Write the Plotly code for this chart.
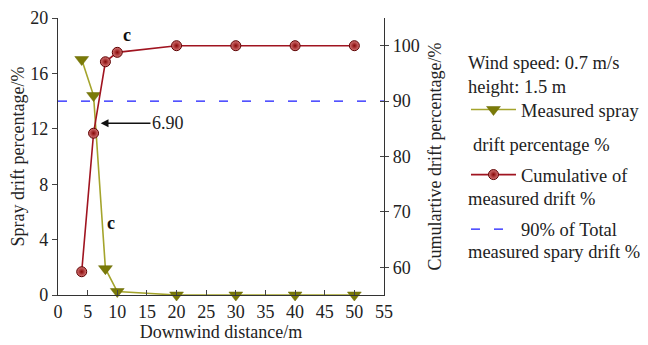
import plotly.graph_objects as go

distance = [4, 6, 8, 10, 20, 30, 40, 50]
spray_drift = [17.0, 14.4, 1.9, 0.25, 0.0, 0.0, 0.0, 0.0]
cumulative = [59.2, 84.2, 97.1, 98.8, 100.0, 100.0, 100.0, 100.0]
threshold_x = [0, 55]
threshold_y = [90, 90]
right_ticks = [60, 70, 80, 90, 100]

FONT = "Liberation Serif"
FS = 18
LFS = 18.5

fig = go.Figure()
fig.add_trace(go.Scatter(
    x=distance, y=spray_drift, mode="lines+markers",
    name="Measured spray",
    line=dict(color="#a4a42c", width=1.6),
    marker=dict(symbol="triangle-down", size=12, color="#7a7a08",
                line=dict(color="#686800", width=0.5)),
    legend="legend", cliponaxis=False))
fig.add_trace(go.Scatter(
    x=distance, y=cumulative, mode="lines+markers", yaxis="y2",
    name="Cumulative of",
    line=dict(color="#a01420", width=1.6),
    marker=dict(symbol="circle", size=10, color="#d87878",
                gradient=dict(type="radial", color="#860606"),
                line=dict(color="#5c0000", width=1.0)),
    legend="legend2", cliponaxis=False))
fig.add_trace(go.Scatter(
    x=threshold_x, y=threshold_y, mode="lines", yaxis="y3",
    name="90% of Total",
    line=dict(color="#1a1aff", width=1.4, dash="9px,14px"),
    legend="legend3"))

def leg(y):
    return dict(x=1.2515, y=y, xanchor="left", yanchor="middle",
                font=dict(size=LFS, family=FONT, color="#222"),
                bgcolor="rgba(0,0,0,0)", itemwidth=45, borderwidth=0)

fig.update_layout(
    width=648, height=345,
    margin=dict(l=50, r=272, t=10, b=58, autoexpand=False),
    paper_bgcolor="white", plot_bgcolor="white",
    font=dict(family=FONT, size=FS, color="#222"),
    xaxis=dict(range=[0, 55], dtick=5, ticks="inside", ticklen=5,
               showline=True, linecolor="#333", linewidth=1.3,
               showgrid=False, zeroline=False, automargin=False,
               title=dict(text="Downwind distance/m", standoff=2,
                          font=dict(family=FONT, size=FS)),
               tickfont=dict(family=FONT, size=FS)),
    yaxis=dict(range=[0, 20], dtick=4, ticks="outside", ticklen=5,
               showline=True, linecolor="#333", linewidth=1.3,
               showgrid=False, zeroline=False, automargin=False,
               title=dict(text="Spray drift percentage/%", standoff=2,
                          font=dict(family=FONT, size=FS)),
               tickfont=dict(family=FONT, size=FS)),
    yaxis2=dict(range=[55, 105], tickvals=right_ticks,
                overlaying="y", side="right", anchor="x",
                ticks="outside", ticklen=4, automargin=False,
                showline=True, linecolor="#333", linewidth=1.3,
                showgrid=False, zeroline=False,
                title=dict(text="Cumulartive drift percentage/%", standoff=9,
                           font=dict(family=FONT, size=FS)),
                tickfont=dict(family=FONT, size=FS)),
    yaxis3=dict(range=[55, 105], tickvals=right_ticks + [105],
                overlaying="y", side="right", anchor="x",
                ticks="inside", ticklen=4, automargin=False,
                showticklabels=False, showline=False,
                showgrid=False, zeroline=False),
    legend=leg(0.668),
    legend2=leg(0.433),
    legend3=leg(0.236),
    showlegend=True,
)

tf = dict(size=LFS, family=FONT, color="#222")
fig.add_annotation(xref="paper", yref="paper", x=1.2515, y=0.7925,
                   xanchor="left", yanchor="middle", align="left",
                   text="Wind speed: 0.7 m/s<br>height: 1.5 m",
                   showarrow=False, font=tf)
for txt, xx, yy in [("drift percentage %", 1.267, 0.5415),
                    ("measured drift %", 1.2515, 0.3466),
                    ("measured spary drift %", 1.2515, 0.1552)]:
    fig.add_annotation(xref="paper", yref="paper", x=xx, y=yy,
                       xanchor="left", yanchor="middle", align="left",
                       text=txt, showarrow=False, font=tf)

fig.add_annotation(x=11.6, y=18.8, text="<b>c</b>", showarrow=False,
                   font=dict(size=FS, family=FONT, color="#111"))
fig.add_annotation(x=8.9, y=5.2, text="<b>c</b>", showarrow=False,
                   font=dict(size=FS, family=FONT, color="#111"))
fig.add_annotation(x=7.2, y=12.4, ax=15.6, ay=12.4, axref="x", ayref="y",
                   text="6.90", xanchor="left", showarrow=True,
                   arrowhead=2, arrowsize=1.2, arrowwidth=1.3, arrowcolor="#111",
                   font=dict(size=FS, family=FONT, color="#222"))

fig.write_html("out.html")
